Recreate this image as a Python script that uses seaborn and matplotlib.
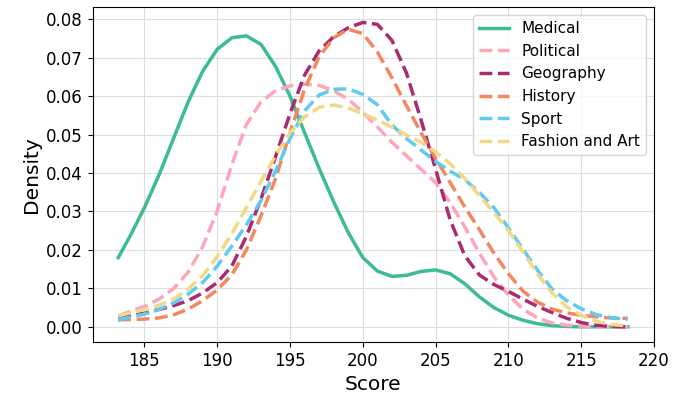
import seaborn as sns
import matplotlib
matplotlib.use("Agg")
import matplotlib.pyplot as plt

# score grid the density curves were read on
scores = [183.2, 184, 185, 186, 187, 188, 189, 190, 191, 192, 193, 194, 195,
          196, 197, 198, 199, 200, 201, 202, 203, 204, 205, 206, 207, 208,
          209, 210, 211, 212, 213, 214, 215, 216, 217, 218, 218.2]

medical = [0.018, 0.0235, 0.031, 0.0395, 0.049, 0.0585, 0.0665, 0.0722,
           0.0752, 0.0757, 0.0735, 0.0678, 0.060, 0.0505, 0.0412, 0.0325,
           0.0245, 0.018, 0.0145, 0.0131, 0.0134, 0.0144, 0.0148, 0.0138,
           0.0112, 0.0078, 0.0050, 0.0030, 0.0017, 0.0008, 0.0003, 0.0001,
           0.0, 0.0, 0.0, 0.0, 0.0]
political = [0.0028, 0.004, 0.0053, 0.0072, 0.0099, 0.0142, 0.0208, 0.0302,
             0.0422, 0.0526, 0.0585, 0.0614, 0.0627, 0.0631, 0.0628, 0.0614,
             0.0592, 0.0558, 0.052, 0.048, 0.0445, 0.041, 0.0375, 0.0323,
             0.026, 0.0192, 0.013, 0.0082, 0.0046, 0.0023, 0.001, 0.0004,
             0.0002, 0.0001, 0.0, 0.0, 0.0]
geography = [0.0025, 0.003, 0.0035, 0.0045, 0.0055, 0.0068, 0.0088, 0.0115,
             0.0158, 0.0235, 0.0332, 0.0442, 0.0555, 0.0655, 0.0718, 0.0755,
             0.0778, 0.0792, 0.0787, 0.0745, 0.066, 0.0538, 0.041, 0.0278,
             0.0185, 0.0135, 0.011, 0.0092, 0.0072, 0.0053, 0.0037, 0.0022,
             0.0011, 0.0004, 0.0001, 0.0, 0.0]
history = [0.0018, 0.0019, 0.002, 0.0023, 0.0031, 0.0046, 0.0068, 0.0096,
           0.0135, 0.020, 0.0288, 0.0385, 0.0505, 0.0618, 0.0703, 0.0752,
           0.0774, 0.0763, 0.0715, 0.0648, 0.0575, 0.0505, 0.0438, 0.0375,
           0.0312, 0.0253, 0.0192, 0.0138, 0.0093, 0.0064, 0.0046, 0.0036,
           0.003, 0.0026, 0.0023, 0.0022, 0.0022]
sport = [0.0018, 0.0025, 0.0033, 0.0045, 0.0062, 0.0085, 0.0115, 0.0158,
         0.021, 0.0265, 0.0328, 0.0405, 0.049, 0.0562, 0.0603, 0.0618,
         0.0619, 0.0605, 0.0578, 0.0525, 0.049, 0.046, 0.043, 0.0405,
         0.0383, 0.035, 0.031, 0.0257, 0.0202, 0.0147, 0.0098, 0.0068,
         0.0047, 0.0032, 0.0024, 0.002, 0.002]
fashion = [0.0028, 0.0036, 0.0045, 0.0056, 0.0072, 0.0098, 0.0133, 0.0183,
           0.0242, 0.031, 0.0378, 0.0445, 0.0505, 0.0546, 0.0571, 0.0577,
           0.0569, 0.0555, 0.0538, 0.052, 0.0499, 0.048, 0.0455, 0.0424,
           0.0386, 0.0342, 0.0297, 0.025, 0.0195, 0.0137, 0.0088, 0.0052,
           0.003, 0.0015, 0.0006, 0.0003, 0.0002]

labels = ["Medical", "Political", "Geography", "History", "Sport", "Fashion and Art"]
series = [medical, political, geography, history, sport, fashion]
colors = ["#3dbb92", "#ffa6b8", "#a82c6f", "#f3875e", "#5ecbf0", "#f1d985"]
styles = ["-", "--", "--", "--", "--", "--"]

fig, ax = plt.subplots(figsize=(6.87, 4.0), dpi=100)
for lab, vals, col, ls in zip(labels, series, colors, styles):
    sns.lineplot(x=scores, y=vals, ax=ax, color=col, linestyle=ls,
                 linewidth=2.5, label=lab, solid_joinstyle="round",
                 dash_joinstyle="round")

ax.grid(True, color="#dddddd", linewidth=0.8)
ax.set_axisbelow(True)
ax.set_xlabel("Score", fontsize=14.5)
ax.set_ylabel("Density", fontsize=14.5)
ax.tick_params(axis="both", labelsize=12)
ax.set_xticks([185, 190, 195, 200, 205, 210, 215, 220])
ax.legend(loc="upper right", fontsize=11)
plt.subplots_adjust(left=0.135, right=0.952, top=0.982, bottom=0.145)
plt.savefig("out.png", dpi=100)
